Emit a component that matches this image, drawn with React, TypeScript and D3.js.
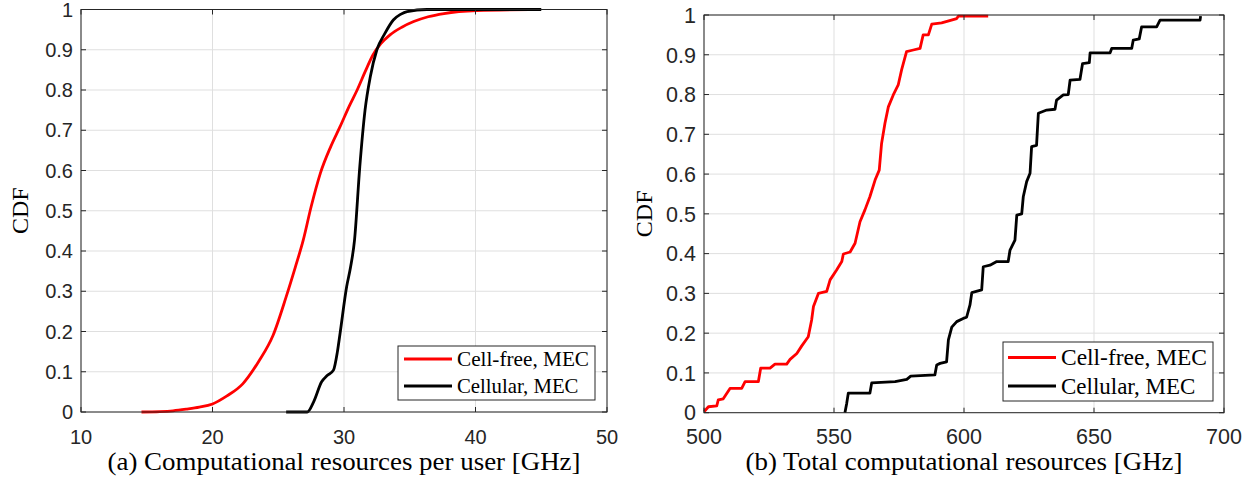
import React, { useRef, useEffect } from "react";
import * as d3 from "d3";

// ---- data ----
const cdfTicks = [0, 0.1, 0.2, 0.3, 0.4, 0.5, 0.6, 0.7, 0.8, 0.9, 1];
const perUserTicks = [10, 20, 30, 40, 50];
const totalTicks = [500, 550, 600, 650, 700];
const seriesNames = ["Cell-free, MEC", "Cellular, MEC"];
const seriesColors = ["#ff0000", "#000000"];

// (a) per-user resources [GHz] vs CDF
const cellFreePerUser: [number, number][] = [
  [14.6, 0], [16, 0.001], [17, 0.003], [18, 0.007], [19, 0.012], [20, 0.02],
  [21.1, 0.04], [22.3, 0.07], [23.5, 0.125], [24.6, 0.19], [25.6, 0.286],
  [26.3, 0.36], [26.9, 0.427], [27.5, 0.51], [28.2, 0.593], [29.0, 0.66],
  [29.7, 0.709], [30.4, 0.76], [31.0, 0.8], [31.6, 0.845], [32.2, 0.887],
  [32.8, 0.915], [33.5, 0.937], [34.4, 0.956], [35.3, 0.97], [36.4, 0.982],
  [37.6, 0.99], [40.1, 0.9975], [44.1, 1.0],
];
const cellularPerUser: [number, number][] = [
  [25.6, 0], [27.2, 0], [27.7, 0.026], [28.3, 0.075], [28.7, 0.09],
  [29.2, 0.104], [29.5, 0.15], [29.7, 0.195], [30.2, 0.311], [30.5, 0.36],
  [30.8, 0.427], [31.2, 0.609], [31.6, 0.75], [32.0, 0.833], [32.5, 0.9],
  [33.1, 0.94], [33.75, 0.974], [34.3, 0.988], [34.8, 0.995], [36.3, 1.0],
  [45, 1.0],
];

// (b) total resources [GHz] vs CDF
const cellFreeTotal: [number, number][] = [
  [500.1, 0.003], [501.7, 0.015], [504.9, 0.017], [505.5, 0.032], [507.4, 0.035],
  [510, 0.061], [514.5, 0.061], [515.8, 0.078], [520.9, 0.078], [521.8, 0.112],
  [525.4, 0.112], [527.3, 0.122], [531.8, 0.122], [533.1, 0.134], [535.7, 0.149],
  [537.6, 0.168], [540.1, 0.191], [541.4, 0.233], [542.1, 0.267], [544.0, 0.3],
  [547.2, 0.305], [548.5, 0.334], [551.0, 0.359], [553.0, 0.38], [553.6, 0.399],
  [556.2, 0.404], [558.1, 0.426], [560.0, 0.48], [561.9, 0.51], [563.8, 0.543],
  [565.8, 0.585], [567.4, 0.61], [568.3, 0.677], [569.6, 0.728], [570.9, 0.769],
  [572.8, 0.799], [574.7, 0.824], [576.0, 0.862], [577.9, 0.908], [580.5, 0.912],
  [583.1, 0.916], [584.3, 0.95], [586.3, 0.95], [587.6, 0.977], [591.4, 0.98],
  [597.2, 0.991], [597.8, 0.997], [609.3, 0.997],
];
const cellularTotal: [number, number][] = [
  [554.2, 0], [554.9, 0.024], [555.5, 0.049], [563.8, 0.049], [564.5, 0.075],
  [573.5, 0.078], [578.0, 0.084], [579.5, 0.092], [588.8, 0.095], [589.5, 0.12],
  [590.8, 0.124], [593.3, 0.128], [594.0, 0.183], [595.3, 0.215], [597.2, 0.229],
  [599.7, 0.237], [601.0, 0.24], [602.3, 0.271], [603.0, 0.302], [606.8, 0.309],
  [607.4, 0.367], [610.0, 0.371], [612.6, 0.38], [617.0, 0.38], [617.7, 0.409],
  [619.6, 0.434], [620.3, 0.497], [622.2, 0.5], [622.8, 0.543], [624.1, 0.581],
  [625.4, 0.602], [626.0, 0.669], [627.9, 0.672], [628.6, 0.753], [631.8, 0.761],
  [635.0, 0.763], [635.6, 0.786], [638.2, 0.799], [640.1, 0.8], [640.8, 0.836],
  [644.6, 0.838], [645.6, 0.878], [648.2, 0.88], [648.5, 0.905], [656.2, 0.905],
  [656.8, 0.916], [664.5, 0.916], [665.1, 0.937], [667.4, 0.94], [668.3, 0.97],
  [674.1, 0.97], [675.4, 0.987], [690.8, 0.987], [691.0, 0.997],
];

const W = 1254;
const H = 482;
const SANS = "'Liberation Sans', Arial, Helvetica, sans-serif";
const SERIF = "'Liberation Serif', 'Times New Roman', serif";
const AXIS = "#262626";

type PanelCfg = {
  box: { l: number; r: number; t: number; b: number };
  xDomain: [number, number];
  xTicks: number[];
  series: [number, number][][];
  smooth: boolean;
  tickFont: number;
  legend: { x: number; y: number; w: number; h: number; rows: number[]; lx0: number; lx1: number; tx: number; font: number; tw: number };
  caption: string;
  captionW: number;
  cdfX: number;
};

const panels: PanelCfg[] = [
  {
    box: { l: 81, r: 607, t: 9.5, b: 412 },
    xDomain: [10, 50],
    xTicks: perUserTicks,
    series: [cellFreePerUser, cellularPerUser],
    smooth: true,
    tickFont: 20,
    legend: { x: 398, y: 346, w: 197, h: 54, rows: [359, 386], lx0: 404, lx1: 452, tx: 457, font: 21, tw: 132 },
    caption: "(a) Computational resources per user [GHz]",
    captionW: 473,
    cdfX: 28,
  },
  {
    box: { l: 704, r: 1224, t: 15, b: 412.7 },
    xDomain: [500, 700],
    xTicks: totalTicks,
    series: [cellFreeTotal, cellularTotal],
    smooth: false,
    tickFont: 21.5,
    legend: { x: 1003, y: 342, w: 210, h: 59, rows: [357.5, 386], lx0: 1008, lx1: 1056, tx: 1061, font: 23, tw: 146 },
    caption: "(b) Total computational resources [GHz]",
    captionW: 437,
    cdfX: 652,
  },
];

const fmtY = (v: number) => (v === 0 ? "0" : v === 1 ? "1" : d3.format(".1f")(v));

export default function App() {
  const svgRef = useRef<SVGSVGElement>(null);

  useEffect(() => {
    const svg = d3.select(svgRef.current);
    svg.selectAll("*").remove();

    panels.forEach((p) => {
      const { l, r, t, b } = p.box;
      const x = d3.scaleLinear().domain(p.xDomain).range([l, r]);
      const y = d3.scaleLinear().domain([0, 1]).range([b, t]);
      const g = svg.append("g");

      g.append("rect").attr("x", l).attr("y", t).attr("width", r - l).attr("height", b - t).attr("fill", "#fff");

      // grid
      g.selectAll(".gx").data(p.xTicks).join("line")
        .attr("x1", (d) => x(d)).attr("x2", (d) => x(d)).attr("y1", t).attr("y2", b)
        .attr("stroke", "#dfdfdf").attr("stroke-width", 1);
      g.selectAll(".gy").data(cdfTicks).join("line")
        .attr("x1", l).attr("x2", r).attr("y1", (d) => y(d)).attr("y2", (d) => y(d))
        .attr("stroke", "#dfdfdf").attr("stroke-width", 1);

      // curves
      const line = d3.line<[number, number]>()
        .x((d) => x(d[0])).y((d) => y(d[1]))
        .curve(p.smooth ? d3.curveMonotoneX : d3.curveLinear);
      p.series.forEach((s, i) => {
        g.append("path").attr("d", line(s) as string).attr("fill", "none")
          .attr("stroke", seriesColors[i]).attr("stroke-width", 2.8)
          .attr("stroke-linejoin", "round").attr("stroke-linecap", "butt");
      });

      // box + inward ticks on all sides
      g.append("rect").attr("x", l).attr("y", t).attr("width", r - l).attr("height", b - t)
        .attr("fill", "none").attr("stroke", AXIS).attr("stroke-width", 1);
      const tl = 5;
      p.xTicks.forEach((v) => {
        g.append("line").attr("x1", x(v)).attr("x2", x(v)).attr("y1", b).attr("y2", b - tl).attr("stroke", AXIS);
        g.append("line").attr("x1", x(v)).attr("x2", x(v)).attr("y1", t).attr("y2", t + tl).attr("stroke", AXIS);
      });
      cdfTicks.forEach((v) => {
        g.append("line").attr("x1", l).attr("x2", l + tl).attr("y1", y(v)).attr("y2", y(v)).attr("stroke", AXIS);
        g.append("line").attr("x1", r).attr("x2", r - tl).attr("y1", y(v)).attr("y2", y(v)).attr("stroke", AXIS);
      });

      // tick labels
      g.selectAll(".xl").data(p.xTicks).join("text")
        .attr("x", (d) => x(d)).attr("y", 444).attr("text-anchor", "middle")
        .attr("font-family", SANS).attr("font-size", p.tickFont).attr("fill", AXIS)
        .text((d) => String(d));
      g.selectAll(".yl").data(cdfTicks).join("text")
        .attr("x", l - 8).attr("y", (d) => y(d)).attr("dy", "0.36em").attr("text-anchor", "end")
        .attr("font-family", SANS).attr("font-size", p.tickFont).attr("fill", AXIS)
        .text((d) => fmtY(d));

      // axis labels
      g.append("text")
        .attr("transform", `translate(${p.cdfX},${(t + b) / 2}) rotate(-90)`)
        .attr("text-anchor", "middle").attr("font-family", SERIF).attr("font-size", 24).attr("fill", "#000")
        .text("CDF");
      g.append("text")
        .attr("x", (l + r) / 2 - p.captionW / 2).attr("y", 470)
        .attr("textLength", p.captionW).attr("lengthAdjust", "spacingAndGlyphs")
        .attr("font-family", SERIF).attr("font-size", 25).attr("fill", "#000")
        .text(p.caption);

      // legend
      const lg = p.legend;
      g.append("rect").attr("x", lg.x).attr("y", lg.y).attr("width", lg.w).attr("height", lg.h)
        .attr("fill", "#fff").attr("stroke", AXIS).attr("stroke-width", 1);
      seriesNames.forEach((name, i) => {
        g.append("line").attr("x1", lg.lx0).attr("x2", lg.lx1).attr("y1", lg.rows[i]).attr("y2", lg.rows[i])
          .attr("stroke", seriesColors[i]).attr("stroke-width", 2.8);
        g.append("text").attr("x", lg.tx).attr("y", lg.rows[i]).attr("dy", "0.33em")
          .attr("font-family", SERIF).attr("font-size", lg.font).attr("fill", "#000")
          .attr("textLength", i === 0 ? lg.tw : lg.tw * 0.92).attr("lengthAdjust", "spacingAndGlyphs")
          .text(name);
      });
    });
  }, []);

  return (
    <svg
      ref={svgRef}
      width={W}
      height={H}
      style={{ position: "absolute", left: 0, top: 0, background: "#fff" }}
    />
  );
}
